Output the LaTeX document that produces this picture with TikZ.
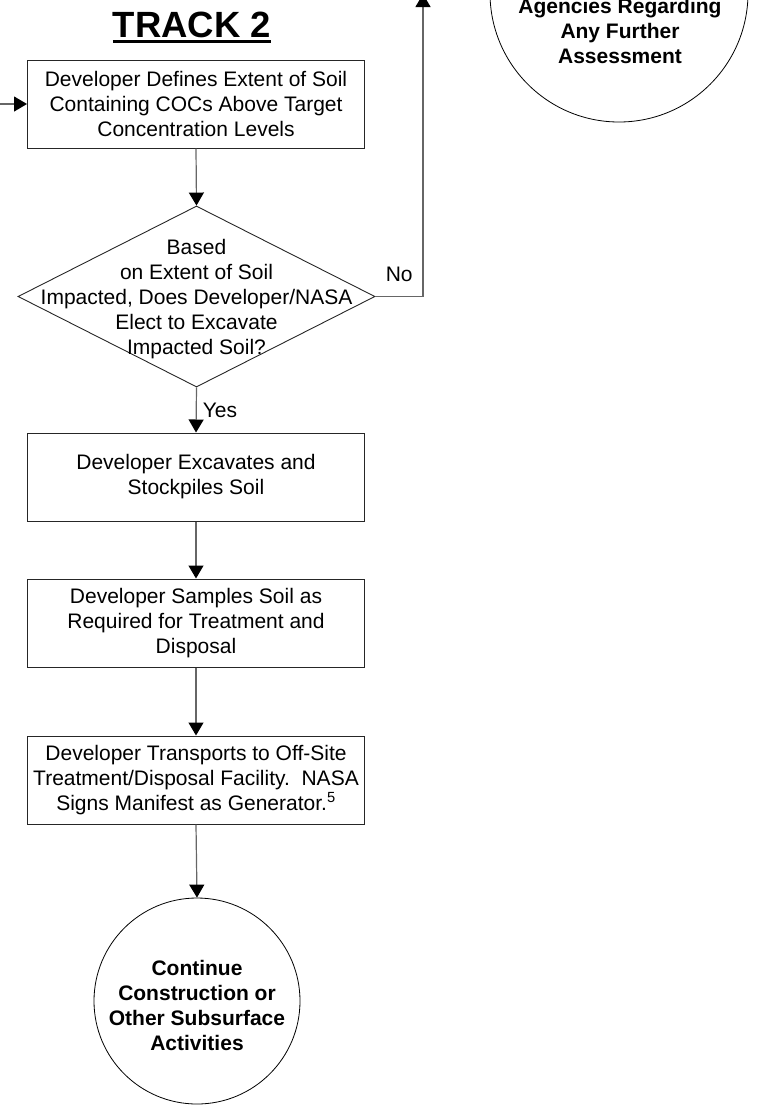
\documentclass[tikz,border=0pt]{standalone}
\usepackage{fontspec}
\setmainfont{Liberation Sans}
\usetikzlibrary{shapes.geometric,arrows.meta}
\newcommand\thickul[1]{\setbox0\hbox{#1}\rlap{\rule[-5.5pt]{\wd0}{2.6pt}}\box0}
\begin{document}
\begin{tikzpicture}[x=1pt,y=-1pt,
  txt/.style={font=\fontsize{21}{25}\selectfont, align=center, inner sep=0pt},
  stepbox/.style={txt, draw=black!85, line width=1pt, minimum width=337pt, minimum height=88pt},
  decbox/.style={diamond, draw=black!85, line width=0.9pt, minimum width=357pt, minimum height=181pt, inner sep=0pt},
  endcirc/.style={circle, draw=black, line width=0.8pt, inner sep=0pt},
  boldtxt/.style={txt, font=\bfseries\fontsize{21}{25}\selectfont},
  conn/.style={draw=black!60, line width=1.2pt, -{Triangle[width=15pt,length=13pt,color=black]}},
  lbl/.style={font=\fontsize{21}{25}\selectfont, inner sep=0pt}]
\useasboundingbox (0,0) rectangle (762,1109);
\clip (0,0) rectangle (762,1109);

\node[font=\bfseries\fontsize{36.5}{40}\selectfont, anchor=base, inner sep=0pt] (title) at (192,37) {\thickul{TRACK 2}};

\node[stepbox] (box1) at (196,104) {Developer Defines Extent of Soil\\Containing COCs Above Target\\Concentration Levels};
\node[decbox] (dec) at (196.5,296.5) {};
\node[txt] (dectxt) at (196.5,299) {Based\\on Extent of Soil\\Impacted, Does Developer/NASA\\Elect to Excavate\\Impacted Soil?};
\node[stepbox] (box2) at (196,477) {Developer Excavates and\\Stockpiles Soil};
\node[stepbox] (box3) at (196,623) {Developer Samples Soil as\\Required for Treatment and\\Disposal};
\node[stepbox] (box4) at (196,780) {Developer Transports to Off-Site\\Treatment/Disposal Facility.\ \ NASA\\Signs Manifest as Generator.\textsuperscript{5}};
\node[endcirc, minimum size=206pt] (cont) at (197,1001) {};
\node[boldtxt] (conttxt) at (197,1005) {Continue\\Construction or\\Other Subsurface\\Activities};

\node[endcirc, minimum size=258pt] (consult) at (619,-7) {};
\node[boldtxt] (consulttxt) at (620,31) {Agencies Regarding\\Any Further\\Assessment};

\coordinate (in) at (-5,104);
\coordinate (corner) at (423,296.5);
\coordinate (exitup) at (423,-6);

\draw[conn] (in) -- (box1.west);
\draw[conn] (box1.south) -- (dec.north);
\draw[conn] (dec.east) -- node[lbl, above=14pt] {No} (corner) -- (exitup);
\draw[conn] (dec.south) -- node[lbl, right=6pt] {Yes} (box2.north);
\draw[conn] (box2.south) -- (box3.north);
\draw[conn] (box3.south) -- (box4.north);
\draw[conn] (box4.south) -- (cont.north);
\end{tikzpicture}
\end{document}
